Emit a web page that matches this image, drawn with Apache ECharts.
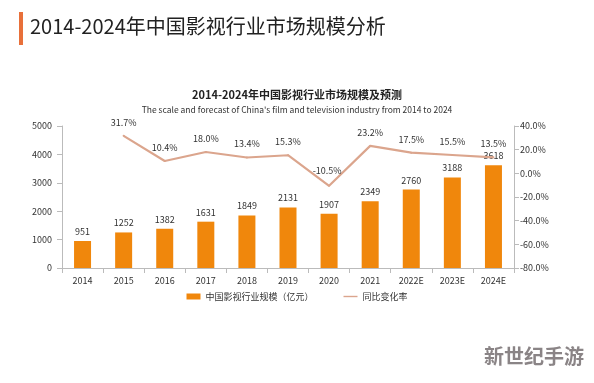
<!DOCTYPE html>
<html><head><meta charset="utf-8">
<script src="https://cdn.jsdelivr.net/npm/echarts@6/dist/echarts.min.js"></script>
<style>html,body{margin:0;padding:0;background:#fff}#c{width:594px;height:383px}</style>
</head><body><div id="c"></div>
<script>
const categories = ['2014','2015','2016','2017','2018','2019','2020','2021','2022E','2023E','2024E'];
const scaleValues = [951,1252,1382,1631,1849,2131,1907,2349,2760,3188,3618];
const growthValues = [null,31.7,10.4,18.0,13.4,15.3,-10.5,23.2,17.5,15.5,13.5];

const chart = echarts.init(document.getElementById('c'), null, {renderer:'canvas'});
const font = '"Noto Sans CJK SC","Noto Sans",sans-serif';
const lineData = growthValues.map((v,i)=> (i===6 && v!==null) ? {value:v,label:{offset:[-2,-2]}} : v);
chart.setOption({
  animation:false,
  textStyle:{fontFamily:font},
  graphic:[
    {type:'rect',shape:{x:19,y:12,width:4,height:33},style:{fill:'#e8703a'}},
    {type:'text',left:30,top:16,style:{text:'2014-2024年中国影视行业市场规模分析',font:'normal 20px '+font,fill:'#222'}},
    {type:'text',left:484,top:346,style:{text:'新世纪手游',font:'bold 20px '+font,fill:'#8a8486'}}
  ],
  title:{
    text:'2014-2024年中国影视行业市场规模及预测',
    subtext:'The scale and forecast of China\'s film and television industry from 2014 to 2024',
    left:'center',top:84,itemGap:6,
    textStyle:{fontSize:11,fontWeight:'bold',color:'#222',fontFamily:font},
    subtextStyle:{fontSize:8.5,color:'#333',fontFamily:font}
  },
  legend:{
    bottom:77,left:'center',itemGap:30,itemWidth:14,itemHeight:6,
    textStyle:{fontSize:9,color:'#333'},
    data:[{name:'中国影视行业规模（亿元）',icon:'rect'},{name:'同比变化率',icon:'path://M0,0L10,0L10,1L0,1Z',itemStyle:{color:'#dba58d'}}]
  },
  grid:{left:62,right:80,top:126,bottom:115},
  xAxis:{
    type:'category',data:categories,
    axisLine:{lineStyle:{color:'#bbb'}},
    axisTick:{show:true,lineStyle:{color:'#bbb'}},
    axisLabel:{color:'#333',fontSize:9,margin:8}
  },
  yAxis:[
    {type:'value',min:0,max:5000,interval:1000,
     axisLine:{show:true,lineStyle:{color:'#bbb'}},axisTick:{show:true,lineStyle:{color:'#bbb'}},
     splitLine:{show:false},axisLabel:{color:'#333',fontSize:9,margin:10,formatter:v=>String(v)}},
    {type:'value',min:-80,max:40,interval:20,
     axisLine:{show:true,lineStyle:{color:'#bbb'}},axisTick:{show:true,lineStyle:{color:'#bbb'}},
     splitLine:{show:false},axisLabel:{color:'#333',fontSize:9,margin:6,formatter:v=>v.toFixed(1)+'%'}}
  ],
  series:[
    {name:'中国影视行业规模（亿元）',type:'bar',data:scaleValues,barWidth:17,
     itemStyle:{color:'#f0870c'},
     label:{show:true,position:'top',fontSize:9,color:'#333',distance:5}},
    {name:'同比变化率',type:'line',yAxisIndex:1,data:lineData,symbol:'circle',symbolSize:2,showSymbol:true,
     lineStyle:{color:'#dba58d',width:2.2},itemStyle:{color:'#dba58d'},
     label:{show:true,position:'top',fontSize:9,color:'#333',distance:8,
       formatter:function(p){var v=p.value; return (typeof v==='number')? v.toFixed(1)+'%' : '';}}}
  ]
});
</script></body></html>
